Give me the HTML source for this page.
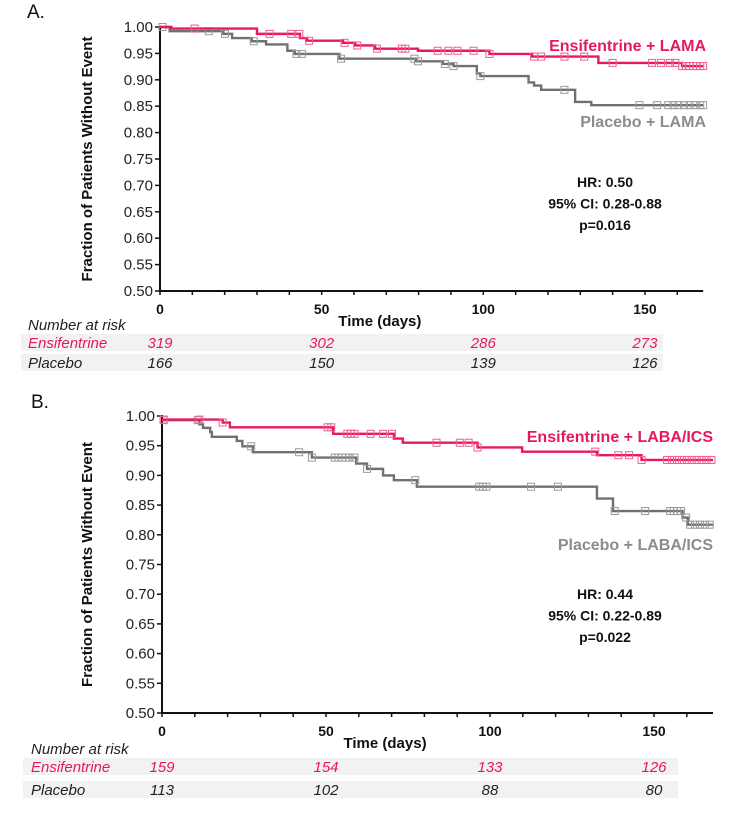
<!DOCTYPE html>
<html><head><meta charset="utf-8"><style>
body{margin:0;background:#fff;}
svg{display:block;font-family:"Liberation Sans",sans-serif;}
</style></head><body>
<svg id="chart" width="737" height="813" viewBox="0 0 737 813" xmlns="http://www.w3.org/2000/svg"></svg>
<script>
// ---------- data ----------
const aEnsiEvents = [[0,1.0],[3.5,0.997],[30,0.987],[43.3,0.979],[45.5,0.974],[56.6,0.970],[60.4,0.965],[66.5,0.959],[79.8,0.955],[101.9,0.949],[115.1,0.944],[135.6,0.932],[161.5,0.926]];
const aEnsiCensor = [10.7,33.9,40.6,43.1,46.1,57.1,61.0,67.1,74.8,75.9,85.9,89.2,92.0,97.0,101.9,115.7,117.9,125.1,131.2,140.0,152.2,155.0,157.7,159.4,161.5,162.7,163.8,164.9,166.0,167.1,168];
const aPlacEvents = [[0,1.0],[3,0.992],[19.6,0.987],[22.3,0.979],[28.4,0.973],[32.8,0.967],[39.4,0.955],[41.7,0.949],[55.5,0.940],[79.2,0.935],[87.5,0.930],[90.8,0.926],[98,0.912],[99.1,0.907],[114,0.895],[115.7,0.889],[117.9,0.881],[128.4,0.858],[133.4,0.852]];
const aPlacCensor = [0.8,15.1,20.1,29.0,42.2,43.9,56.0,78.7,79.8,88.1,90.8,99.1,125.1,148.3,153.8,157.2,158.8,160.4,162.1,163.8,165.4,167.1,168];
const bEnsiEvents = [[0,0.994],[18.5,0.989],[20.7,0.981],[52.2,0.970],[70.7,0.962],[73.4,0.955],[96.2,0.947],[109.8,0.940],[132.6,0.934],[146.2,0.926]];
const bEnsiCensor = [0.5,11.4,18.5,50.5,51.6,56.5,57.6,58.7,63.6,67.4,70.1,83.7,90.8,93.5,96.2,132.1,139.1,142.4,146.2,154,155.5,157,158.5,160,161.5,163,164.5,166,167.5];
const bPlacEvents = [[0,0.993],[11.4,0.986],[12.5,0.980],[14.7,0.973],[15.2,0.965],[22.8,0.958],[24.5,0.949],[27.7,0.939],[45.7,0.930],[59.2,0.920],[62.5,0.911],[67.4,0.900],[70.7,0.892],[77.7,0.881],[132.6,0.861],[137.5,0.840],[158.7,0.829],[160.3,0.817]];
const bPlacCensor = [0.5,10.9,27.2,41.8,45.7,52.7,53.8,54.9,56,57.1,58.7,62.5,77.2,96.7,97.8,98.9,112.5,120.7,138,147.3,154.9,156,157.1,158.2,159.8,161,162.5,164,165.5,167];
const yTicks = [1.00,0.95,0.90,0.85,0.80,0.75,0.70,0.65,0.60,0.55,0.50];
const xTickLabels = [0,50,100,150];
const riskTimes = [0,50,100,150];
const aRiskEnsi = [319,302,286,273];
const aRiskPlac = [166,150,139,126];
const bRiskEnsi = [159,154,133,126];
const bRiskPlac = [113,102,88,80];

const PINK="#e8185e", PINK_L="#ee5f8e", GRAY="#707070", GRAY_L="#9a9a9a";
const NS="http://www.w3.org/2000/svg";
const svg=document.getElementById('chart');
function el(tag,attrs,parent,text){const e=document.createElementNS(NS,tag);for(const k in attrs)e.setAttribute(k,attrs[k]);if(text!==undefined)e.textContent=text;(parent||svg).appendChild(e);return e;}

function panel(p){
  const g=el('g',{});
  
  
  const X=t=>p.x0+t*p.xs;
  const Y=v=>p.yTop+(1-v)*p.yk;
  const yBot=Y(0.5), xEnd=X(168);
  const lt=el('text',{x:p.letterX,y:p.letterY,'font-size':19,fill:'#111'},g,p.letter);
  
  
  // axes
  const ya=el('line',{x1:p.x0,y1:Y(1.0)-1,x2:p.x0,y2:yBot,stroke:'#111','stroke-width':2},g);
  
  
  const xa=el('line',{x1:p.x0,y1:yBot,x2:xEnd,y2:yBot,stroke:'#111','stroke-width':2},g);
  
  
  yTicks.forEach(v=>{
    el('line',{x1:p.x0-5,y1:Y(v),x2:p.x0,y2:Y(v),stroke:'#111','stroke-width':1.5},g);
    const t=el('text',{x:p.x0-7,y:Y(v)+5,'text-anchor':'end','font-size':15,fill:'#222'},g,v.toFixed(2));
    
    
  });
  for(let t=0;t<=160;t+=10){el('line',{x1:X(t),y1:yBot,x2:X(t),y2:yBot+4,stroke:'#111','stroke-width':1.5},g);}
  xTickLabels.forEach(t=>{
    const e=el('text',{x:X(t),y:yBot+23,'text-anchor':'middle','font-size':14,'font-weight':'bold',fill:'#111'},g,String(t));
    
    
  });
  const xt=el('text',{x:X(68),y:yBot+35,'text-anchor':'middle','font-size':15,'font-weight':'bold',fill:'#111'},g,'Time (days)');
  
  
  const ytl=el('text',{x:0,y:0,'text-anchor':'middle','font-size':15,'font-weight':'bold',fill:'#111',transform:`translate(${p.ytX},${(Y(1)+yBot)/2}) rotate(-90)`},g,'Fraction of Patients Without Event');
  
  
  // curves
  function curve(events,censor,col,lcol,name){
    let d='M'+X(events[0][0])+','+Y(events[0][1]);
    for(let i=1;i<events.length;i++){d+=' H'+X(events[i][0])+' V'+Y(events[i][1]);}
    d+=' H'+X(168);
    const path=el('path',{d:d,fill:'none',stroke:col,'stroke-width':2.4},g);
    
    
    const sv=t=>{let v=events[0][1];for(const e of events){if(e[0]<=t)v=e[1];}return v;};
    censor.forEach(t=>{
      const r=el('rect',{x:X(t)-3.5,y:Y(sv(t))-3.5,width:7,height:7,fill:'none',stroke:lcol,'stroke-width':1},g);
      
      
    });
  }
  curve(p.placE,p.placC,GRAY,GRAY_L,'placebo');
  curve(p.ensiE,p.ensiC,PINK,PINK_L,'ensifentrine');
  const le=el('text',{x:p.labR,y:p.labEy,'text-anchor':'end','font-size':16,'font-weight':'bold',fill:PINK},g,p.ensiLab);
  
  
  const lp=el('text',{x:p.labR,y:p.labPy,'text-anchor':'end','font-size':16,'font-weight':'bold',fill:'#8c8c8c'},g,p.placLab);
  
  
  p.stats.forEach((s,i)=>{
    const e=el('text',{x:605,y:p.statY+i*21.5,'text-anchor':'middle','font-size':14,'font-weight':'bold',fill:'#111'},g,s);
    
    
  });
  // risk table
  const nr=el('text',{x:p.nrX,y:p.nrY,'font-size':15,'font-style':'italic',fill:'#222'},g,'Number at risk');
  
  
  [[p.rEnsi,'Ensifentrine',PINK,p.row1],[p.rPlac,'Placebo','#222',p.row2]].forEach(([vals,lab,col,ry])=>{
    const bg=el('rect',{x:p.bgX,y:ry,width:p.bgW,height:17,fill:'#f2f2f2'},g);
    
    
    const l=el('text',{x:p.nrX,y:ry+14,'font-size':15,'font-style':'italic',fill:col},g,lab);
    
    
    vals.forEach((v,i)=>{
      const t=el('text',{x:X(riskTimes[i]),y:ry+14,'text-anchor':'middle','font-size':15,'font-style':'italic',fill:col},g,String(v));
      
      
    });
  });
}
panel({id:'a',letter:'A.',letterX:27,letterY:18,x0:160,xs:3.233,yTop:27,yk:528,ytX:92,
  ensiE:aEnsiEvents,ensiC:aEnsiCensor,placE:aPlacEvents,placC:aPlacCensor,
  ensiLab:'Ensifentrine + LAMA',placLab:'Placebo + LAMA',labR:706,labEy:51,labPy:127,
  stats:['HR: 0.50','95% CI: 0.28-0.88','p=0.016'],statY:187,
  nrX:28,nrY:330,bgX:21,bgW:642,row1:334,row2:354,rEnsi:aRiskEnsi,rPlac:aRiskPlac});
panel({id:'b',letter:'B.',letterX:31,letterY:408,x0:162,xs:3.28,yTop:416,yk:594,ytX:92,
  ensiE:bEnsiEvents,ensiC:bEnsiCensor,placE:bPlacEvents,placC:bPlacCensor,
  ensiLab:'Ensifentrine + LABA/ICS',placLab:'Placebo + LABA/ICS',labR:713,labEy:442,labPy:550,
  stats:['HR: 0.44','95% CI: 0.22-0.89','p=0.022'],statY:599,
  nrX:31,nrY:754,bgX:23,bgW:655,row1:758,row2:781,rEnsi:bRiskEnsi,rPlac:bRiskPlac});
</script>
</body></html>
